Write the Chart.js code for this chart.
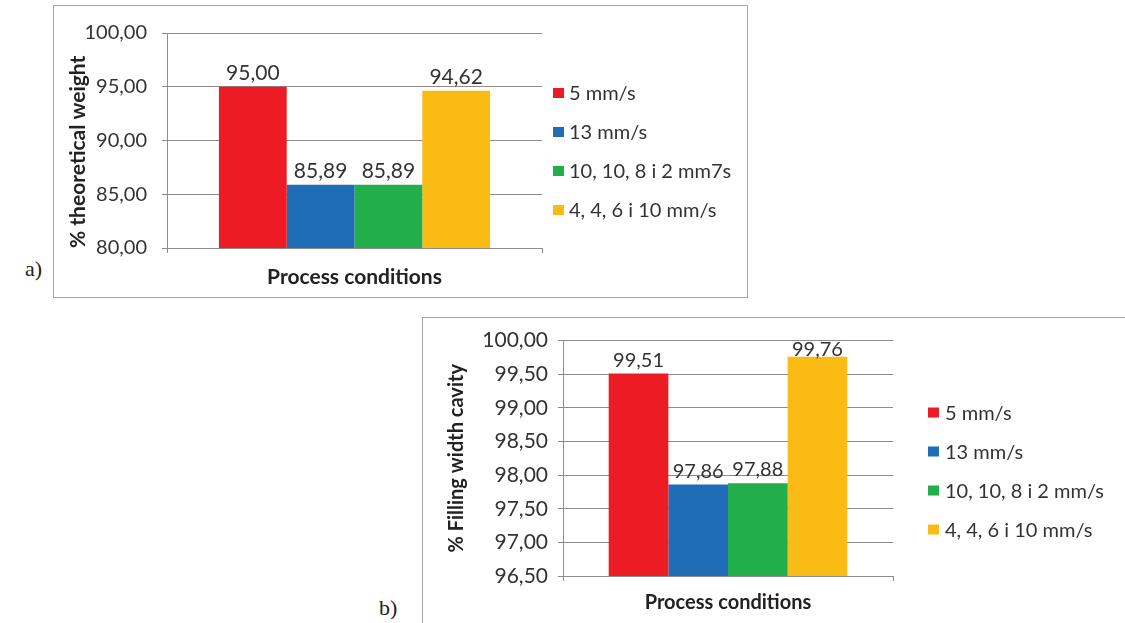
<!DOCTYPE html>
<html>
<head>
<meta charset="utf-8">
<script src="https://cdn.jsdelivr.net/npm/chart.js@4.4.0/dist/chart.umd.min.js"></script>
<style>
  body { margin: 0; width: 1125px; height: 623px; overflow: hidden; position: relative; background: #fff; }
  .frame { position: absolute; border: 1px solid #a6a6a6; background: #fff; }
  .frame canvas { display: block; }
  .tag { position: absolute; font-family: "Liberation Serif", serif; font-size: 22px; color: #222; }
</style>
</head>
<body>
<div class="frame" style="left:53px;top:5px;width:693px;height:291px"><canvas id="chartA" width="693" height="291"></canvas></div>
<div class="tag" style="left:25px;top:256px">a)</div>
<div class="frame" style="left:422px;top:317px;width:720px;height:320px"><canvas id="chartB" width="700" height="306"></canvas></div>
<div class="tag" style="left:379px;top:595px">b)</div>
<script>
// data
const seriesA = ["5 mm/s", "13 mm/s", "10, 10, 8 i 2 mm7s", "4, 4, 6 i 10 mm/s"];
const seriesB = ["5 mm/s", "13 mm/s", "10, 10, 8 i 2 mm/s", "4, 4, 6 i 10 mm/s"];
const weightValues = [95.00, 85.89, 85.89, 94.62];
const fillingValues = [99.51, 97.86, 97.88, 99.76];
const category = ["Process conditions"];
const colors = ["#ed1c24", "#1f6db6", "#22ae4b", "#fbbb15"];

const fmt = (v) => v.toFixed(2).replace(".", ",");

// value above every bar, kept inside the plot like Excel does
const valueLabels = {
    id: "valueLabels",
    afterDatasetsDraw(chart, args, opts) {
        const { ctx, chartArea } = chart;
        ctx.save();
        ctx.font = opts.size + "px Lato";
        ctx.fillStyle = "#333";
        ctx.textAlign = "center";
        ctx.textBaseline = "alphabetic";
        chart.data.datasets.forEach((ds, i) => {
            chart.getDatasetMeta(i).data.forEach((bar, j) => {
                const y = Math.max(bar.y - opts.gap, chartArea.top + opts.size * 0.78);
                ctx.fillText(fmt(ds.data[j]), bar.x, y);
            });
        });
        ctx.restore();
    }
};

// legend on the right side
const sideLegend = {
    id: "sideLegend",
    afterDraw(chart, args, opts) {
        const { ctx, chartArea } = chart;
        const n = chart.data.datasets.length;
        ctx.save();
        ctx.font = opts.size + "px Lato";
        ctx.textAlign = "left";
        ctx.textBaseline = "middle";
        chart.data.datasets.forEach((ds, i) => {
            const y = opts.centerY + (i - (n - 1) / 2) * opts.spacing;
            ctx.fillStyle = ds.backgroundColor;
            ctx.fillRect(chartArea.right + opts.boxX, y - 5, 11, 10);
            ctx.fillStyle = "#333";
            ctx.fillText(ds.label, chartArea.right + opts.textX, y + 1);
        });
        ctx.restore();
    }
};

function makeChart(id, names, values, c) {
    return new Chart(document.getElementById(id), {
        type: "bar",
        data: {
            labels: category,
            datasets: names.map((name, i) => ({
                label: name,
                data: [values[i]],
                backgroundColor: colors[i],
                borderWidth: 0,
                categoryPercentage: 0.723,
                barPercentage: 1,
            })),
        },
        options: {
            responsive: false,
            animation: false,
            layout: { padding: { top: c.top, right: c.right, left: 0, bottom: 0 } },
            scales: {
                x: {
                    afterFit: (s) => { s.height = c.xHeight; },
                    ticks: { callback: () => "" },
                    grid: { drawOnChartArea: false, tickLength: 5, color: "#8c8c8c" },
                    border: { color: "#8c8c8c" },
                    title: {
                        display: true, text: "Process conditions", color: "#222",
                        font: { family: "Lato", size: c.titleFont, weight: "bold" },
                        padding: { top: 0, bottom: c.xTitlePad },
                    },
                },
                y: {
                    min: c.min, max: c.max,
                    afterFit: (s) => { s.width = c.yWidth; },
                    ticks: {
                        stepSize: c.step, padding: c.tickPad, color: "#333",
                        font: { family: "Lato", size: c.tickFont },
                        callback: (v) => fmt(v),
                    },
                    grid: { color: "#8c8c8c", tickLength: 5 },
                    border: { color: "#8c8c8c" },
                    title: {
                        display: true, text: c.yTitle, color: "#222", align: c.yAlign,
                        font: { family: "Lato", size: c.titleFont, weight: "bold" },
                        padding: { top: c.yTitlePad, bottom: 0 },
                    },
                },
            },
            plugins: {
                legend: { display: false },
                tooltip: { enabled: false },
                valueLabels: { size: c.labelFont, gap: 7 },
                sideLegend: { size: c.legendFont, centerY: c.legendY, spacing: 39, boxX: c.boxX, textX: c.textX },
            },
        },
        plugins: [valueLabels, sideLegend],
    });
}

makeChart("chartA", seriesA, weightValues, {
    min: 80, max: 100, step: 5,
    tickFont: 20, titleFont: 21, labelFont: 21, legendFont: 20,
    top: 27, right: 205, xHeight: 49, yWidth: 113, tickPad: 15,
    xTitlePad: 7, yTitlePad: 12, yTitle: "% theoretical weight", yAlign: "start",
    legendY: 145.5, boxX: 11, textX: 27,
});

makeChart("chartB", seriesB, fillingValues, {
    min: 96.5, max: 100, step: 0.5,
    tickFont: 21, titleFont: 20, labelFont: 20, legendFont: 20,
    top: 19, right: 230, xHeight: 48, yWidth: 140, tickPad: 10,
    xTitlePad: 9, yTitlePad: 22, yTitle: "% Filling width cavity", yAlign: "center",
    legendY: 153, boxX: 35, textX: 52,
});
</script>
</body>
</html>
